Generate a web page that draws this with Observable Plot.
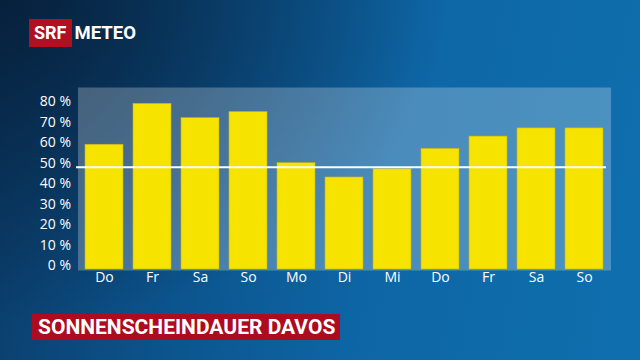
<!DOCTYPE html>
<html>
<head>
<meta charset="utf-8">
<script src="https://cdn.jsdelivr.net/npm/d3@7"></script>
<script src="https://cdn.jsdelivr.net/npm/@observablehq/plot@0.6"></script>
<style>
html,body{margin:0;padding:0;}
#card{position:relative;width:640px;height:360px;overflow:hidden;
  background:
    radial-gradient(ellipse 70% 90% at 0% 0%, rgba(6,28,52,0.85), rgba(6,28,52,0) 100%),
    linear-gradient(100deg, #0a3a66 0%, #0c5690 35%, #0e66a6 60%, #0f6fae 100%);
  font-family:"Open Sans",sans-serif;}
#chart{position:absolute;left:0;top:0;}
#logo{position:absolute;left:29px;top:19px;height:28px;display:flex;align-items:center;}
#logo .srf{background:#b0101f;color:#fff;font:700 18px Roboto,sans-serif;height:28px;line-height:28px;padding:0 5px;}
#logo .meteo{color:#fff;font:700 18.5px Roboto,sans-serif;margin-left:3px;}
#title{position:absolute;left:32px;top:314px;height:26px;background:#ad0b20;color:#fff;font:700 21px Roboto,sans-serif;line-height:26px;padding:0 5px 0 6px;white-space:nowrap;}
</style>
</head>
<body>
<div id="card">
  <div id="chart"></div>
  <div id="logo"><span class="srf">SRF</span><span class="meteo">METEO</span></div>
  <div id="title">SONNENSCHEINDAUER DAVOS</div>
</div>
<script>
const days = ["Do","Fr","Sa","So","Mo","Di","Mi","Do","Fr","Sa","So"];
const sunshine = [61, 81, 74, 77, 52, 45, 49, 59, 65, 69, 69];
const yTicks = [0, 10, 20, 30, 40, 50, 60, 70, 80];
const refLine = [50];

const idx = d3.range(days.length);

const chart = Plot.plot({
  width: 640,
  height: 360,
  marginLeft: 77.5,
  marginRight: 29.5,
  marginTop: 87,
  marginBottom: 91,
  x: {type: "band", domain: idx, paddingInner: 0.2, paddingOuter: 0.08, axis: null},
  y: {domain: [0, 89], axis: null},
  style: {background: "transparent", color: "white", fontFamily: "'Open Sans', sans-serif", fontSize: "14px", overflow: "visible"},
  marks: [
    Plot.frame({fill: "white", fillOpacity: 0.25, stroke: "none", insetBottom: -1}),
    Plot.barY(sunshine, {x: (d, i) => i, y: d => d, fill: "#f6e400", stroke: "#c4b31c", strokeWidth: 0.6}),
    Plot.ruleY(refLine, {stroke: "white", strokeWidth: 2, insetRight: 4.5, insetLeft: -1.5}),
    Plot.axisY(yTicks, {tickSize: 0, tickPadding: 7, tickFormat: d => `${d} %`, dy: -4, fill: "white", fontWeight: 500}),
    Plot.axisX(idx, {tickSize: 0, tickPadding: 3, tickFormat: i => days[i], fill: "white", fontWeight: 500})
  ]
});
document.getElementById("chart").appendChild(chart);
</script>
</body>
</html>
